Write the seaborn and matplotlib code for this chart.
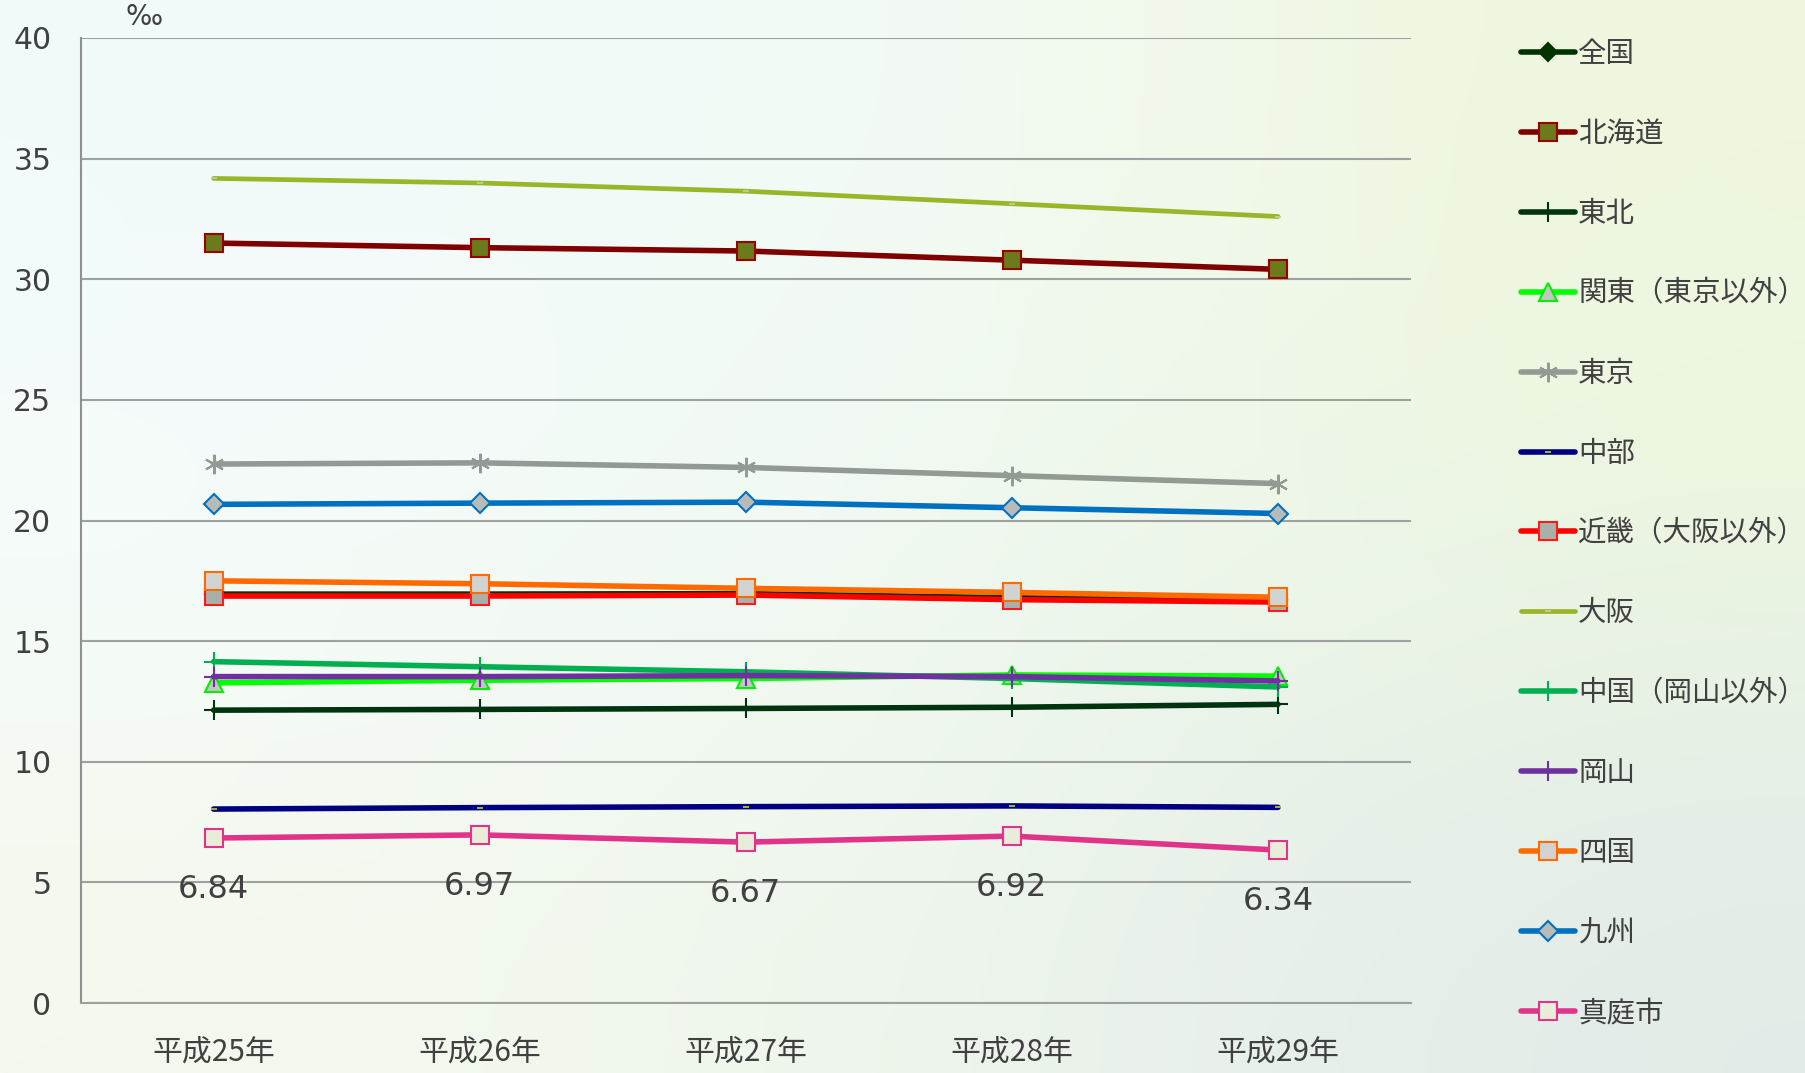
import numpy as np
import pandas as pd
import matplotlib
matplotlib.use("Agg")
import matplotlib.pyplot as plt
import seaborn as sns

years = ["平成25年", "平成26年", "平成27年", "平成28年", "平成29年"]

zenkoku   = [16.95, 16.95, 16.97, 16.80, 16.70]
hokkaido  = [31.50, 31.31, 31.17, 30.79, 30.41]
tohoku    = [12.14, 12.17, 12.21, 12.26, 12.38]
kanto     = [13.27, 13.38, 13.45, 13.60, 13.55]
tokyo     = [22.34, 22.39, 22.20, 21.86, 21.53]
chubu     = [8.04, 8.10, 8.14, 8.17, 8.11]
kinki     = [16.87, 16.87, 16.91, 16.72, 16.62]
osaka     = [34.18, 33.99, 33.65, 33.13, 32.60]
chugoku   = [14.15, 13.94, 13.73, 13.45, 13.10]
okayama   = [13.53, 13.53, 13.57, 13.53, 13.35]
shikoku   = [17.50, 17.38, 17.19, 17.02, 16.82]
kyushu    = [20.67, 20.72, 20.76, 20.53, 20.29]
maniwa    = [6.84, 6.97, 6.67, 6.92, 6.34]

names = ["全国", "北海道", "東北", "関東（東京以外）", "東京", "中部",
         "近畿（大阪以外）", "大阪", "中国（岡山以外）", "岡山", "四国", "九州", "真庭市"]
values = [zenkoku, hokkaido, tohoku, kanto, tokyo, chubu, kinki, osaka,
          chugoku, okayama, shikoku, kyushu, maniwa]
maniwa_labels = ["6.84", "6.97", "6.67", "6.92", "6.34"]

styles = {
    "全国": dict(color="#003300", marker="D", ms=9, mfc="#003300", mec="#003300"),
    "北海道": dict(color="#800000", marker="s", ms=13, mfc="#6b7a1a", mec="#9a0000", mew=1.5),
    "東北": dict(color="#00330f", marker="+", ms=14, mfc="#00330f", mec="#00330f", mew=1.5),
    "関東（東京以外）": dict(color="#00ff00", marker="^", ms=13, mfc="#c4c4c4", mec="#00ee00", mew=1.5),
    "東京": dict(color="#939993", marker=(6, 2, 0), ms=14, mfc="#939993", mec="#939993", mew=1.5),
    "中部": dict(color="#000080", marker="_", ms=5, mfc="#a0b030", mec="#a0b030", mew=1.5),
    "近畿（大阪以外）": dict(color="#ff0000", marker="s", ms=13, mfc="#a9b0a9", mec="#ff1a1a", mew=1.5),
    "大阪": dict(color="#9bb528", marker="_", ms=5, mfc="#c8d0a0", mec="#c8d0a0", mew=1.2),
    "中国（岡山以外）": dict(color="#00b050", marker="+", ms=14, mfc="#00b050", mec="#00b050", mew=1.5),
    "岡山": dict(color="#7030a0", marker="+", ms=14, mfc="#7030a0", mec="#7030a0", mew=1.5),
    "四国": dict(color="#ff6a00", marker="s", ms=13, mfc="#d0d3cf", mec="#ff6a00", mew=1.5),
    "九州": dict(color="#0070c0", marker="D", ms=10, mfc="#b8bcb8", mec="#0070c0", mew=1.5),
    "真庭市": dict(color="#e0338a", marker="s", ms=13, mfc="#e9ecd8", mec="#e0338a", mew=1.5),
}

sns.set_theme(style="white")
plt.rcParams["font.family"] = ["DejaVu Sans", "Noto Sans CJK JP"]

fig = plt.figure(figsize=(18.06, 10.73), dpi=100)

# background gradient
bg = fig.add_axes([0, 0, 1, 1], zorder=-10)
cols = np.array([
    [[0xf2, 0xfa, 0xfa], [0xf4, 0xfb, 0xf8], [0xee, 0xf6, 0xdc]],
    [[0xf6, 0xfc, 0xfb], [0xf0, 0xf9, 0xf2], [0xec, 0xf6, 0xe0]],
    [[0xf4, 0xf9, 0xee], [0xee, 0xf6, 0xec], [0xe2, 0xeb, 0xe8]],
]) / 255.0
bg.imshow(cols, aspect="auto", interpolation="bicubic", extent=[0, 1, 0, 1])
bg.set_axis_off()

ax = fig.add_axes([0.0446, 0.0652, 0.7367, 0.8994])
ax.set_facecolor("none")

for i, (name, vals) in enumerate(zip(names, values)):
    st = styles[name]
    df = pd.DataFrame({"year": years, "value": vals})
    lw = 3.4 if name == "大阪" else 4.0
    sns.lineplot(data=df, x="year", y="value", ax=ax, label=name,
                 color=st["color"], lw=lw, marker=st["marker"],
                 markersize=st["ms"], markerfacecolor=st["mfc"],
                 markeredgecolor=st["mec"], markeredgewidth=st.get("mew", 1.5),
                 solid_capstyle="round", zorder=2 + i, sort=False)

for i, lab in enumerate(maniwa_labels):
    ax.annotate(lab, xy=(i, maniwa[i]), xytext=(0, -37), textcoords="offset points",
                ha="center", va="center", fontsize=23, color="#404040")

ax.set_xlim(-0.5, 4.5)
ax.set_ylim(0, 40)
ax.set_yticks(range(0, 41, 5))
ax.grid(axis="y", color="#a0a0a0", lw=1.5)
ax.grid(axis="x", visible=False)
ax.set_axisbelow(True)
for s in ["top", "right"]:
    ax.spines[s].set_visible(False)
ax.spines["left"].set_color("#909090")
ax.spines["left"].set_linewidth(1.5)
ax.spines["bottom"].set_color("#a0a0a0")
ax.spines["bottom"].set_linewidth(1.5)
ax.tick_params(axis="y", length=0, pad=21, labelsize=21.5, labelcolor="#404040")
ax.tick_params(axis="x", length=0, pad=24, labelsize=21.5, labelcolor="#404040")
for t in ax.get_xticklabels():
    t.set_fontfamily(["Noto Sans CJK JP", "DejaVu Sans"])
ax.set_xlabel("")
ax.set_ylabel("")

fig.text(144 / 1806, 1 - 17 / 1073, "‰", ha="center", va="center",
         fontsize=20, color="#404040")

handles, labels = ax.get_legend_handles_labels()
ax.legend_.remove()
leg = fig.legend(handles, labels, loc="upper left", bbox_to_anchor=(0.8423, 0.964),
                 frameon=False, handlelength=1.9, handletextpad=0.1,
                 labelspacing=1.755, borderpad=0, borderaxespad=0, numpoints=1,
                 prop={"family": ["Noto Sans CJK JP", "DejaVu Sans"], "size": 20.5})
for t in leg.get_texts():
    t.set_color("#404040")

fig.savefig("out.png", dpi=100)
